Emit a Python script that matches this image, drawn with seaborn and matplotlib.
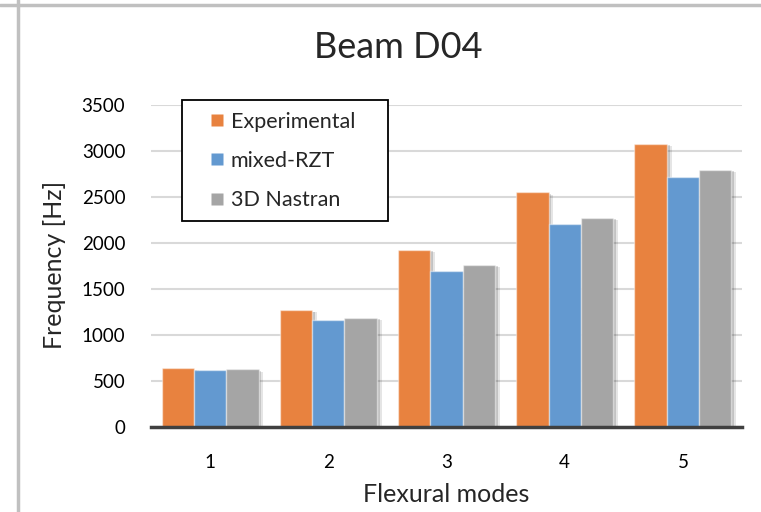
import matplotlib
matplotlib.use("Agg")
import matplotlib.pyplot as plt
import matplotlib.patheffects as pe
from matplotlib.lines import Line2D
from matplotlib.patches import Rectangle
import seaborn as sns
import pandas as pd

modes = ["1", "2", "3", "4", "5"]
experimental = [640, 1270, 1930, 2550, 3080]
mixed_rzt = [618, 1170, 1700, 2205, 2715]
nastran_3d = [628, 1188, 1762, 2272, 2797]
series_names = ["Experimental", "mixed-RZT", "3D Nastran"]
colors = ["#E8823F", "#6399D0", "#A5A5A5"]

rows = []
for name, vals in zip(series_names, [experimental, mixed_rzt, nastran_3d]):
    for m, v in zip(modes, vals):
        rows.append({"mode": m, "series": name, "freq": v})
df = pd.DataFrame(rows)

sns.set_theme(style="white")
font = ["Lato", "DejaVu Sans"]
plt.rcParams["font.family"] = font

W, H = 761, 512
fig = plt.figure(figsize=(W / 100, H / 100), dpi=100)
ax = fig.add_axes([151 / W, 1 - 427.3 / H, (742 - 151) / W, (427.3 - 105) / H])

sns.barplot(data=df, x="mode", y="freq", hue="series", order=modes,
            hue_order=series_names, palette=colors, width=0.82,
            saturation=1, ax=ax, legend=False, zorder=3)

for p in ax.patches:
    p.set_edgecolor((1, 1, 1, 0.45))
    p.set_linewidth(1.0)
    p.set_path_effects([
        pe.SimplePatchShadow(offset=(3.5, -1.5), alpha=0.10, shadow_rgbFace="black"),
        pe.SimplePatchShadow(offset=(2, -1), alpha=0.15, shadow_rgbFace="black"),
        pe.Normal()])

ax.set_ylim(0, 3500)
ax.set_xlim(-0.5, 4.5)
ax.set_yticks(range(0, 3501, 500))
ax.yaxis.grid(True, color="#D9D9D9", linewidth=1.5, zorder=0)
ax.set_axisbelow(True)
for s in ["top", "right", "left"]:
    ax.spines[s].set_visible(False)
ax.spines["bottom"].set_color("#404040")
ax.spines["bottom"].set_linewidth(2.5)
ax.spines["bottom"].set_zorder(5)
ax.tick_params(axis="both", length=0, labelsize=13.5, colors="#000000")
ax.tick_params(axis="y", pad=18.5)
ax.tick_params(axis="x", pad=19)

ax.set_xlabel("Flexural modes", fontsize=18)
ax.set_ylabel("Frequency [Hz]", fontsize=18)
ax.xaxis.set_label_coords((446 - 151) / 591, -(494 - 427.3) / 322.3)
ax.yaxis.set_label_coords(-(151 - 54) / 591, (427.3 - 265) / 322.3)
ax.xaxis.label.set_va("center")
ax.yaxis.label.set_va("center")
fig.text(398 / W, 1 - 48 / H, "Beam D04", ha="center", va="center", fontsize=26)

# legend
handles = [Line2D([], [], linestyle="none", marker="s", markersize=8,
                  markerfacecolor=c, markeredgecolor="none") for c in colors]
leg = fig.legend(handles, series_names, loc="upper left",
                 bbox_to_anchor=(182 / W, 1 - 100 / H), bbox_transform=fig.transFigure,
                 frameon=False, fontsize=15.5,
                 handlelength=2.15, handletextpad=-0.43,
                 labelspacing=0.89, borderpad=0.55, borderaxespad=0)
leg.set_zorder(10)
fig.add_artist(Rectangle((182 / W, 1 - 221 / H), (388 - 182) / W, (221 - 100) / H,
                         transform=fig.transFigure, facecolor="white",
                         edgecolor="black", linewidth=1.3, zorder=9))

# page border lines
fig.add_artist(Line2D([0, 1], [1 - 5 / H, 1 - 5 / H], transform=fig.transFigure,
                      color="#C0C0C0", linewidth=2.5))
fig.add_artist(Line2D([18 / W, 18 / W], [0, 1], transform=fig.transFigure,
                      color="#C0C0C0", linewidth=2.5))

fig.savefig("out.png", dpi=100)
